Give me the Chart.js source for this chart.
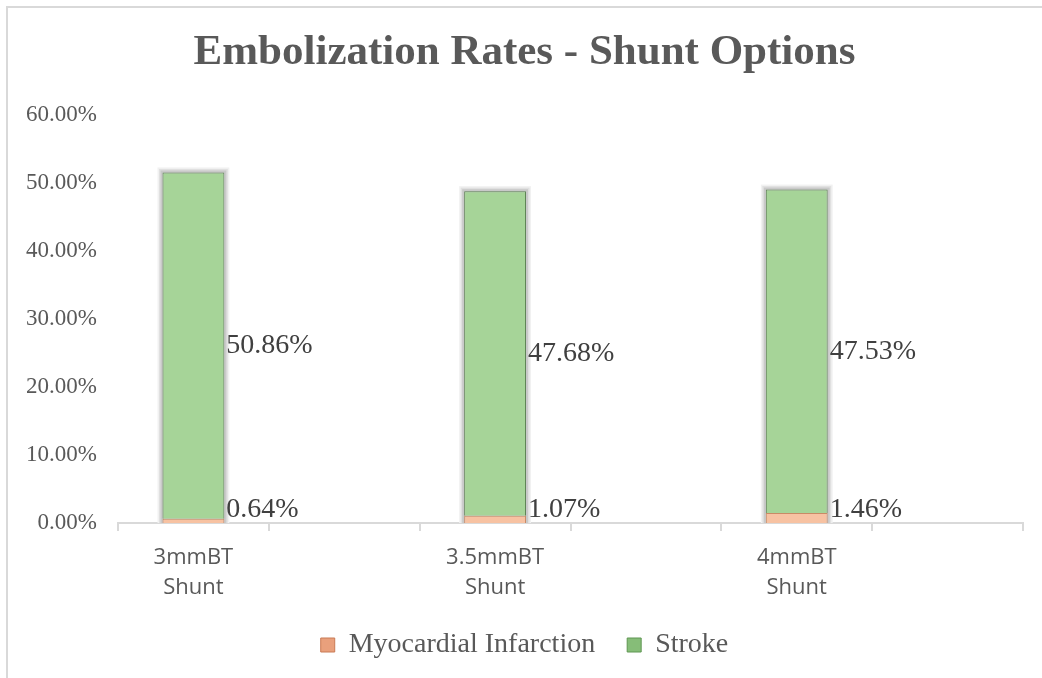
<!DOCTYPE html>
<html>
<head>
<meta charset="utf-8">
<script src="https://cdn.jsdelivr.net/npm/chart.js@4/dist/chart.umd.min.js"></script>
<style>
  html, body { margin: 0; padding: 0; background: #ffffff; }
  #wrap { width: 1042px; height: 678px; position: relative; }
</style>
</head>
<body>
<div id="wrap"><canvas id="chart" width="1042" height="678"></canvas></div>
<script>
// Shunt options and the embolization rates (%) for each
const shunts = ['3mmBT Shunt', '3.5mmBT Shunt', '4mmBT Shunt'];
const myocardialInfarction = [0.64, 1.07, 1.46];
const stroke = [50.86, 47.68, 47.53];
const yTicks = [0, 10, 20, 30, 40, 50, 60];

// Every shunt sits in its own slot, followed by an empty slot
const slotLabels = [];
const slotMI = [];
const slotStroke = [];
shunts.forEach((name, i) => {
  slotLabels.push(name.split(' '), '');
  slotMI.push(myocardialInfarction[i], null);
  slotStroke.push(stroke[i], null);
});

const SERIF = '"Liberation Serif", "Times New Roman", serif';
const SANS = '"Open Sans", "Noto Sans", sans-serif';

// Bevelled fill: darker at the bar edges, lighter in the middle
function bevel(light, dark) {
  return (c) => {
    const el = c.element;
    if (!el || c.raw == null) return light;
    const x = el.x, w = el.width;
    if (!Number.isFinite(x) || !Number.isFinite(w) || w <= 0) return light;
    const ctx = c.chart.ctx;
    const g = ctx.createLinearGradient(x - w / 2, 0, x + w / 2, 0);
    g.addColorStop(0, dark);
    g.addColorStop(0.07, light);
    g.addColorStop(0.93, light);
    g.addColorStop(1, dark);
    return g;
  };
}

const frame = {
  id: 'frame',
  beforeDraw(chart) {
    const ctx = chart.ctx;
    ctx.save();
    ctx.fillStyle = '#ffffff';
    ctx.fillRect(0, 0, chart.width, chart.height);
    ctx.strokeStyle = '#d9d9d9';
    ctx.lineWidth = 2;
    ctx.strokeRect(7, 7, chart.width + 20, chart.height + 20);
    ctx.restore();
  }
};

// Soft grey halo behind each stacked column
const barHalo = {
  id: 'barHalo',
  beforeDatasetsDraw(chart) {
    const ctx = chart.ctx;
    const lower = chart.getDatasetMeta(0).data;
    const upper = chart.getDatasetMeta(1).data;
    ctx.save();
    upper.forEach((bar, i) => {
      if (chart.data.datasets[1].data[i] == null) return;
      const top = bar.getProps(['y'], true).y;
      const { x, base, width } = lower[i].getProps(['x', 'base', 'width'], true);
      const l = x - width / 2, r = x + width / 2;
      [[5, '#f1f1f1'], [3.5, '#e0e0e0'], [2, '#c9c9c9']].forEach(([d, col]) => {
        ctx.fillStyle = col;
        ctx.fillRect(l - d, top - d, r - l + 2 * d, base - top + d);
      });
    });
    ctx.restore();
  }
};

const valueLabels = {
  id: 'valueLabels',
  afterDatasetsDraw(chart) {
    const ctx = chart.ctx;
    const axisY = chart.scales.y.getPixelForValue(0);
    ctx.save();
    ctx.font = '28px ' + SERIF;
    ctx.fillStyle = '#404040';
    ctx.textAlign = 'left';
    ctx.textBaseline = 'middle';
    chart.data.datasets.forEach((ds, di) => {
      const meta = chart.getDatasetMeta(di);
      meta.data.forEach((bar, i) => {
        const v = ds.data[i];
        if (v == null) return;
        const { x, y, base, width } = bar.getProps(['x', 'y', 'base', 'width'], true);
        let cy = (y + base) / 2;
        cy = Math.min(cy, axisY - 13);
        ctx.fillText(v.toFixed(2) + '%', x + width / 2 + 2, cy);
      });
    });
    ctx.restore();
  }
};

new Chart(document.getElementById('chart'), {
  type: 'bar',
  data: {
    labels: slotLabels,
    datasets: [
      {
        label: 'Myocardial Infarction',
        data: slotMI,
        backgroundColor: bevel('#f7c2a2', '#d8946c'),
        borderColor: '#c98a66',
        borderWidth: 1,
        barPercentage: 0.41,
        categoryPercentage: 1
      },
      {
        label: 'Stroke',
        data: slotStroke,
        backgroundColor: bevel('#a6d498', '#7eaa70'),
        borderColor: '#5f8456',
        borderWidth: 1,
        barPercentage: 0.41,
        categoryPercentage: 1
      }
    ]
  },
  options: {
    responsive: false,
    animation: false,
    layout: { padding: { top: 14, left: 26, right: 19, bottom: 9 } },
    plugins: {
      title: {
        display: true,
        text: 'Embolization Rates - Shunt Options',
        color: '#595959',
        font: { family: SERIF, size: 43, weight: 'bold', lineHeight: 1.2 },
        padding: { top: 13, bottom: 36 }
      },
      legend: {
        position: 'bottom',
        labels: {
          color: '#595959',
          font: { family: SERIF, size: 28 },
          boxWidth: 14,
          boxHeight: 14,
          padding: 32,
          generateLabels(chart) {
            const fills = ['#e9a07c', '#86bd78'];
            const borders = ['#c97a55', '#5f9652'];
            return chart.data.datasets.map((ds, i) => ({
              text: ds.label,
              fillStyle: fills[i],
              strokeStyle: borders[i],
              lineWidth: 1,
              fontColor: '#595959',
              datasetIndex: i,
              hidden: false
            }));
          }
        }
      },
      tooltip: { enabled: false }
    },
    scales: {
      x: {
        stacked: true,
        grid: {
          display: true,
          drawOnChartArea: false,
          drawTicks: true,
          tickLength: 8,
          color: '#d9d9d9',
          lineWidth: 2,
          offset: true
        },
        border: { display: true, color: '#d9d9d9', width: 2 },
        ticks: {
          color: '#595959',
          font: { family: SANS, size: 22, lineHeight: 1.35 },
          maxRotation: 0,
          autoSkip: false,
          padding: 12
        },
        afterFit(scale) {
          scale.height = 76;
          scale.paddingLeft = 0;
          scale.paddingRight = 0;
        }
      },
      y: {
        stacked: true,
        min: yTicks[0],
        max: yTicks[yTicks.length - 1],
        afterBuildTicks(scale) {
          scale.ticks = yTicks.map(v => ({ value: v }));
        },
        grid: { display: false, drawTicks: false },
        border: { display: false },
        ticks: {
          color: '#595959',
          font: { family: SERIF, size: 23 },
          padding: 21,
          callback: (v) => Number(v).toFixed(2) + '%'
        },
        afterFit(scale) {
          scale.width = 92;
        }
      }
    }
  },
  plugins: [frame, barHalo, valueLabels]
});
</script>
</body>
</html>
